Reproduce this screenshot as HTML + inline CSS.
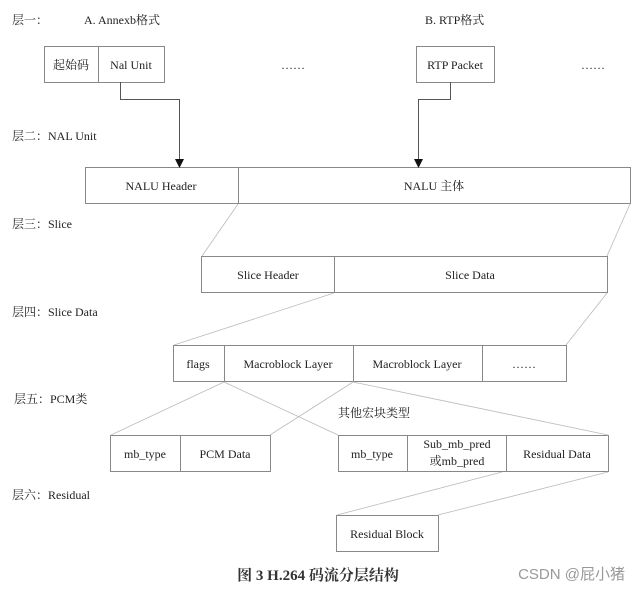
<!DOCTYPE html>
<html><head><meta charset="utf-8"><style>
html,body{margin:0;padding:0;background:#fff;}
</style></head><body>
<svg width="638" height="590" xmlns="http://www.w3.org/2000/svg" style="display:block">
<rect width="638" height="590" fill="#fff"/>
<g font-family="Liberation Serif, Noto Serif CJK SC, serif" font-size="12" fill="#222">
<text x="12" y="24">层一：</text>
<text x="84" y="24">A. Annexb格式</text>
<text x="425" y="24">B. RTP格式</text>
<text x="12" y="140">层二：NAL Unit</text>
<text x="12" y="228">层三：Slice</text>
<text x="12" y="316">层四：Slice Data</text>
<text x="14" y="403">层五：PCM类</text>
<text x="12" y="499">层六：Residual</text>
</g>
<g fill="none" stroke="#888" stroke-width="1">
<rect x="44.5" y="46.5" width="120" height="36"/><line x1="98.5" y1="46" x2="98.5" y2="83"/>
<rect x="416.5" y="46.5" width="78" height="36"/>
<rect x="85.5" y="167.5" width="545" height="36"/><line x1="238.5" y1="167" x2="238.5" y2="204"/>
<rect x="201.5" y="256.5" width="406" height="36"/><line x1="334.5" y1="256" x2="334.5" y2="293"/>
<rect x="173.5" y="345.5" width="393" height="36"/>
<line x1="224.5" y1="345" x2="224.5" y2="382"/><line x1="353.5" y1="345" x2="353.5" y2="382"/><line x1="482.5" y1="345" x2="482.5" y2="382"/>
<rect x="110.5" y="435.5" width="160" height="36"/><line x1="180.5" y1="435" x2="180.5" y2="472"/>
<rect x="338.5" y="435.5" width="270" height="36"/><line x1="407.5" y1="435" x2="407.5" y2="472"/><line x1="506.5" y1="435" x2="506.5" y2="472"/>
<rect x="336.5" y="515.5" width="102" height="36"/>
</g>
<g fill="none" stroke="#555" stroke-width="1">
<polyline points="120.5,82 120.5,99.5 179.5,99.5 179.5,160"/>
<polyline points="450.5,82 450.5,99.5 418.5,99.5 418.5,160"/>
</g>
<polygon points="175,159 184,159 179.5,168" fill="#111"/>
<polygon points="414,159 423,159 418.5,168" fill="#111"/>
<g stroke="#bbb" stroke-width="0.8">
<line x1="238" y1="204" x2="202" y2="256"/><line x1="630" y1="204" x2="607" y2="256"/>
<line x1="334" y1="293" x2="174" y2="345"/><line x1="607" y1="293" x2="566" y2="345"/>
<line x1="224" y1="382" x2="111" y2="435"/><line x1="353" y1="382" x2="270" y2="435"/>
<line x1="224" y1="382" x2="338" y2="435"/><line x1="353" y1="382" x2="608" y2="435"/>
<line x1="502" y1="472" x2="337" y2="515"/><line x1="608" y1="472" x2="438" y2="515"/>
</g>
<g font-family="Liberation Serif, Noto Serif CJK SC, serif" font-size="12" fill="#222" text-anchor="middle">
<text x="71" y="69">起始码</text>
<text x="131" y="69">Nal Unit</text>
<text x="293" y="69">……</text>
<text x="455" y="69">RTP Packet</text>
<text x="593" y="69">……</text>
<text x="161" y="190">NALU Header</text>
<text x="434" y="190">NALU 主体</text>
<text x="268" y="279">Slice Header</text>
<text x="470" y="279">Slice Data</text>
<text x="198" y="368">flags</text>
<text x="288" y="368">Macroblock Layer</text>
<text x="417" y="368">Macroblock Layer</text>
<text x="524" y="368">……</text>
<text x="374" y="417">其他宏块类型</text>
<text x="145" y="458">mb_type</text>
<text x="225" y="458">PCM Data</text>
<text x="372" y="458">mb_type</text>
<text x="457" y="448">Sub_mb_pred</text>
<text x="457" y="465">或mb_pred</text>
<text x="557" y="458">Residual Data</text>
<text x="387" y="538">Residual Block</text>
</g>
<text x="318" y="580" text-anchor="middle" font-family="Liberation Serif, Noto Serif CJK SC, serif" font-size="15" font-weight="bold" fill="#333">图 3 H.264 码流分层结构</text>
<text x="625" y="579" text-anchor="end" font-family="Liberation Sans, Noto Sans CJK SC, sans-serif" font-size="15" fill="#999">CSDN @屁小猪</text>
</svg>
</body></html>
